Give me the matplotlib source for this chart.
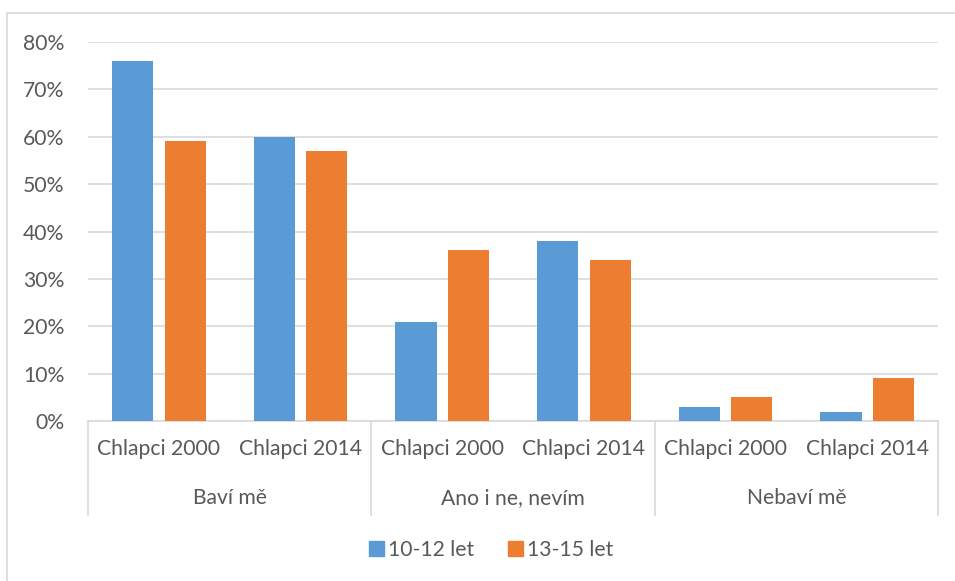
import matplotlib
matplotlib.use("Agg")
import matplotlib.pyplot as plt
import matplotlib.transforms as mtransforms
from matplotlib.patches import Rectangle, Patch
from matplotlib.ticker import PercentFormatter
import numpy as np

# data
groups = ["Baví mě", "Ano i ne, nevím", "Nebaví mě"]
subcats = ["Chlapci 2000", "Chlapci 2014"]
series_names = ["10-12 let", "13-15 let"]
vals_10_12 = [76, 60, 21, 38, 3, 2]
vals_13_15 = [59, 57, 36, 34, 5, 9]

BLUE = "#5B9BD5"
ORANGE = "#ED7D31"
GRID = "#D9D9D9"
TEXT = "#595959"
FS = 15.2

plt.rcParams["font.family"] = ["Lato", "DejaVu Sans"]

W, H = 955, 581
fig = plt.figure(figsize=(W / 100, H / 100), dpi=100)

# chart frame
fig.patches.append(Rectangle((7 / W, -0.1), 1.2, 1 - 13 / H + 0.1,
                             transform=fig.transFigure, fill=False,
                             edgecolor=GRID, linewidth=1.2))

ax = fig.add_axes([88 / W, 1 - 421 / H, (938 - 88) / W, (421 - 42) / H])

n = len(vals_10_12)
x = np.arange(n)
bw = 0.29
off = 0.185
ax.bar(x - off, np.array(vals_10_12) / 100, bw, color=BLUE, zorder=3)
ax.bar(x + off, np.array(vals_13_15) / 100, bw, color=ORANGE, zorder=3)

ax.set_xlim(-0.5, n - 0.5)
ax.set_ylim(0, 0.8)
ax.set_yticks(np.arange(0, 0.81, 0.1))
ax.yaxis.set_major_formatter(PercentFormatter(1.0, decimals=0))
ax.grid(axis="y", color=GRID, linewidth=1.2, zorder=0)
for s in ["top", "right", "left"]:
    ax.spines[s].set_visible(False)
ax.spines["bottom"].set_color(GRID)
ax.spines["bottom"].set_linewidth(1.2)
ax.tick_params(axis="y", length=0, pad=17, labelsize=FS, labelcolor=TEXT)

ax.set_xticks(x)
ax.set_xticklabels(subcats * len(groups))
ax.tick_params(axis="x", length=0, pad=13, labelsize=FS, labelcolor=TEXT)

# outer category level
trans = mtransforms.blended_transform_factory(ax.transData, ax.transAxes)
axh = 421 - 42
for i, g in enumerate(groups):
    ax.text(2 * i + 0.5, -77 / axh, g, transform=trans, ha="center",
            va="center", fontsize=FS, color=TEXT)
for b in [-0.5, 1.5, 3.5, 5.5]:
    ax.plot([b, b], [0, -94 / axh], transform=trans, color=GRID,
            linewidth=1.2, clip_on=False)

handles = [Patch(color=BLUE), Patch(color=ORANGE)]
leg = fig.legend(handles, series_names, loc="center",
                 bbox_to_anchor=(491 / W, 1 - 550 / H), ncol=2,
                 frameon=False, fontsize=FS, handlelength=0.7,
                 handleheight=0.7, handletextpad=0.2, columnspacing=1.6)
for t in leg.get_texts():
    t.set_color(TEXT)

fig.savefig("out.png", dpi=100)
